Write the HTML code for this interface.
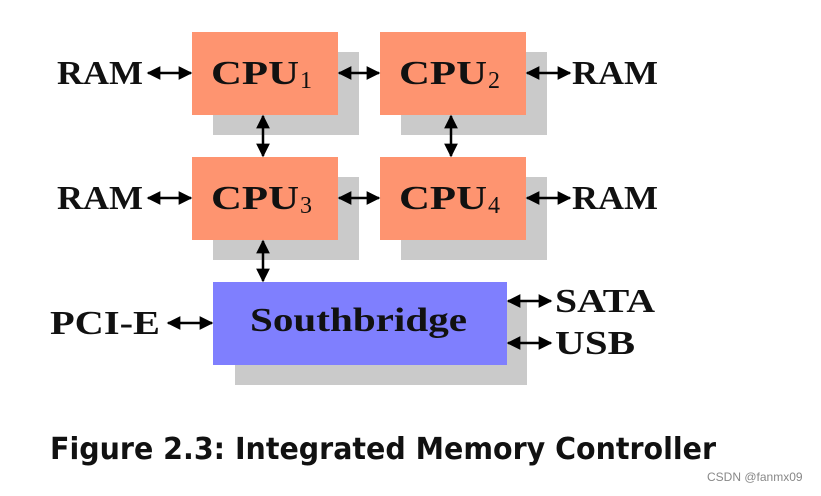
<!DOCTYPE html>
<html><head><style>
body{margin:0;background:#fff;width:821px;height:491px;overflow:hidden}
svg text{font-family:"Liberation Serif",serif;font-weight:bold;fill:#111}
svg text.s{font-weight:normal}
</style></head><body>
<svg width="821" height="491" viewBox="0 0 821 491" xmlns="http://www.w3.org/2000/svg">
<defs>
<marker id="a" viewBox="0 0 10 10" refX="9" refY="5" markerWidth="5.5" markerHeight="5.5" orient="auto-start-reverse">
<path d="M0,0 L10,5 L0,10 z" fill="#000"/></marker>
</defs>
<rect x="213" y="52" width="146" height="83" fill="#cacaca"/>
<rect x="401" y="52" width="146" height="83" fill="#cacaca"/>
<rect x="213" y="177" width="146" height="83" fill="#cacaca"/>
<rect x="401" y="177" width="146" height="83" fill="#cacaca"/>
<rect x="235" y="302" width="292" height="83" fill="#cacaca"/>
<rect x="192" y="32" width="146" height="83" fill="#fe9470"/>
<rect x="380" y="32" width="146" height="83" fill="#fe9470"/>
<rect x="192" y="157" width="146" height="83" fill="#fe9470"/>
<rect x="380" y="157" width="146" height="83" fill="#fe9470"/>
<rect x="213" y="282" width="294" height="83" fill="#7f7ffe"/>
<g stroke="#000" stroke-width="2.5" marker-start="url(#a)" marker-end="url(#a)">
<line x1="148" y1="73" x2="191" y2="73"/>
<line x1="339" y1="73" x2="379" y2="73"/>
<line x1="527" y1="73" x2="570" y2="73"/>
<line x1="148" y1="198" x2="191" y2="198"/>
<line x1="339" y1="198" x2="379" y2="198"/>
<line x1="527" y1="198" x2="570" y2="198"/>
<line x1="263" y1="116" x2="263" y2="156"/>
<line x1="451" y1="116" x2="451" y2="156"/>
<line x1="263" y1="241" x2="263" y2="281"/>
<line x1="168" y1="323" x2="212" y2="323"/>
<line x1="508" y1="301" x2="551" y2="301"/>
<line x1="508" y1="343" x2="551" y2="343"/>
</g>
<g font-size="34">
<text x="57" y="84" textLength="86" lengthAdjust="spacingAndGlyphs">RAM</text>
<text x="572" y="84" textLength="86" lengthAdjust="spacingAndGlyphs">RAM</text>
<text x="57" y="209" textLength="86" lengthAdjust="spacingAndGlyphs">RAM</text>
<text x="572" y="209" textLength="86" lengthAdjust="spacingAndGlyphs">RAM</text>
<text x="211" y="84" textLength="88" lengthAdjust="spacingAndGlyphs">CPU</text><text class="s" x="300" y="88" font-size="24">1</text>
<text x="399" y="84" textLength="88" lengthAdjust="spacingAndGlyphs">CPU</text><text class="s" x="488" y="88" font-size="24">2</text>
<text x="211" y="209" textLength="88" lengthAdjust="spacingAndGlyphs">CPU</text><text class="s" x="300" y="213" font-size="24">3</text>
<text x="399" y="209" textLength="88" lengthAdjust="spacingAndGlyphs">CPU</text><text class="s" x="488" y="213" font-size="24">4</text>
<text x="50" y="334" textLength="110" lengthAdjust="spacingAndGlyphs">PCI-E</text>
<text x="555" y="312" textLength="100" lengthAdjust="spacingAndGlyphs">SATA</text>
<text x="555" y="354" textLength="80" lengthAdjust="spacingAndGlyphs">USB</text>
<text x="250" y="331" textLength="217" lengthAdjust="spacingAndGlyphs">Southbridge</text>
</g>
<text x="50" y="459" font-size="30" style="font-family:'DejaVu Sans','Liberation Sans',sans-serif;font-weight:bold" textLength="666" lengthAdjust="spacingAndGlyphs">Figure 2.3: Integrated Memory Controller</text>
<text x="707" y="481" font-size="12" style="font-family:'Liberation Sans',sans-serif;font-weight:normal;fill:#888">CSDN @fanmx09</text>
</svg>
</body></html>
